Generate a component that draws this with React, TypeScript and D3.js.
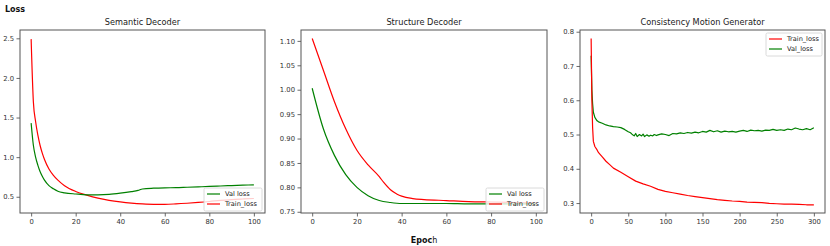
import React, { useEffect, useRef } from 'react';
import * as d3 from 'd3';

// Semantic Decoder (epochs 0..100)
const semTrainEpoch = [0, 1, 2, 3, 4, 5, 6, 8, 10, 12, 15, 20, 25, 30, 35, 40, 45, 50, 55, 60, 65, 70, 75, 80, 85, 90, 95, 100];
const semTrainLoss = [2.49, 1.7, 1.45, 1.28, 1.15, 1.05, 0.97, 0.85, 0.77, 0.71, 0.64, 0.567, 0.52, 0.482, 0.455, 0.435, 0.42, 0.41, 0.405, 0.405, 0.41, 0.418, 0.428, 0.44, 0.455, 0.465, 0.472, 0.478];
const semValEpoch = [0, 1, 2, 3, 4, 5, 6, 8, 10, 12, 15, 20, 25, 30, 35, 40, 45, 48, 50, 55, 60, 65, 70, 75, 80, 85, 90, 95, 100];
const semValLoss = [1.43, 1.15, 1.0, 0.9, 0.82, 0.76, 0.71, 0.64, 0.6, 0.57, 0.55, 0.535, 0.525, 0.525, 0.53, 0.545, 0.565, 0.58, 0.598, 0.608, 0.613, 0.615, 0.62, 0.625, 0.63, 0.636, 0.641, 0.646, 0.651];

// Structure Decoder (epochs 0..100)
const strTrainEpoch = [0, 5, 10, 15, 20, 25, 30, 32, 35, 38, 40, 45, 50, 60, 70, 80, 90, 100];
const strTrainLoss = [1.105, 1.04, 0.975, 0.92, 0.876, 0.846, 0.822, 0.81, 0.795, 0.786, 0.782, 0.777, 0.775, 0.773, 0.771, 0.77, 0.769, 0.768];
const strValEpoch = [0, 5, 10, 15, 20, 25, 30, 35, 40, 50, 60, 70, 80, 90, 100];
const strValLoss = [1.003, 0.92, 0.865, 0.826, 0.8, 0.783, 0.773, 0.769, 0.767, 0.767, 0.767, 0.766, 0.766, 0.766, 0.766];

// Consistency Motion Generator (epochs 0..300)
const cmgTrainEpoch = [0, 1, 2, 3, 5, 8, 10, 15, 20, 25, 30, 40, 50, 60, 70, 80, 90, 100, 110, 120, 130, 140, 150, 160, 170, 180, 190, 200, 210, 220, 230, 240, 250, 260, 270, 280, 290, 300];
const cmgTrainLoss = [0.78, 0.6, 0.52, 0.48, 0.465, 0.455, 0.447, 0.435, 0.422, 0.412, 0.402, 0.39, 0.377, 0.364, 0.356, 0.349, 0.34, 0.334, 0.33, 0.326, 0.322, 0.319, 0.316, 0.313, 0.31, 0.308, 0.306, 0.305, 0.303, 0.302, 0.301, 0.299, 0.298, 0.297, 0.297, 0.296, 0.295, 0.295];
const cmgValEpoch = [0, 1, 2, 3, 5, 8, 10, 15, 20, 25, 30, 35, 40, 45, 50, 53, 55, 58, 60, 62, 65, 68, 70, 72, 75, 78, 80, 83, 85, 88, 90, 95, 100, 105, 110, 115, 120, 125, 130, 135, 140, 145, 150, 155, 160, 165, 170, 175, 180, 185, 190, 195, 200, 205, 210, 215, 220, 225, 230, 235, 240, 245, 250, 255, 260, 265, 270, 275, 280, 285, 290, 295, 300];
const cmgValLoss = [0.73, 0.63, 0.59, 0.565, 0.55, 0.54, 0.537, 0.533, 0.528, 0.525, 0.523, 0.522, 0.52, 0.515, 0.508, 0.505, 0.501, 0.496, 0.503, 0.494, 0.5, 0.496, 0.501, 0.494, 0.499, 0.495, 0.498, 0.496, 0.5, 0.497, 0.499, 0.502, 0.5, 0.497, 0.503, 0.502, 0.505, 0.503, 0.506, 0.504, 0.507, 0.505, 0.509, 0.507, 0.512, 0.508, 0.511, 0.507, 0.51, 0.508, 0.509, 0.507, 0.51, 0.512, 0.509, 0.513, 0.511, 0.512, 0.51, 0.513, 0.512, 0.515, 0.512, 0.514, 0.512, 0.516, 0.514, 0.519, 0.516, 0.514, 0.517, 0.514, 0.52];

const xTicks100 = [0, 20, 40, 60, 80, 100];
const xTicks300 = [0, 50, 100, 150, 200, 250, 300];
const semYTicks = [0.5, 1.0, 1.5, 2.0, 2.5];
const strYTicks = [0.75, 0.8, 0.85, 0.9, 0.95, 1.0, 1.05, 1.1];
const cmgYTicks = [0.3, 0.4, 0.5, 0.6, 0.7, 0.8];

const RED = '#ff0000';
const GREEN = '#008000';
const FONT = '"DejaVu Sans", sans-serif';

export default function App() {
  const ref = useRef<SVGSVGElement>(null);

  useEffect(() => {
    const svg = d3.select(ref.current);
    svg.selectAll('*').remove();

    const panels = [
      {
        title: 'Semantic Decoder', left: 20, right: 265, xDomain: [-5, 105], yDomain: [0.295, 2.605],
        xTicks: xTicks100, yTicks: semYTicks, yFmt: '.1f', legendPos: 'lower', legendW: 58, smooth: true,
        series: [
          { label: 'Val loss', color: GREEN, x: semValEpoch, y: semValLoss },
          { label: 'Train_loss', color: RED, x: semTrainEpoch, y: semTrainLoss },
        ],
      },
      {
        title: 'Structure Decoder', left: 301, right: 547, xDomain: [-5, 105], yDomain: [0.7475, 1.1223],
        xTicks: xTicks100, yTicks: strYTicks, yFmt: '.2f', legendPos: 'lower', legendW: 58, smooth: true,
        series: [
          { label: 'Val loss', color: GREEN, x: strValEpoch, y: strValLoss },
          { label: 'Train_loss', color: RED, x: strTrainEpoch, y: strTrainLoss },
        ],
      },
      {
        title: 'Consistency Motion Generator', left: 580, right: 825, xDomain: [-15, 315], yDomain: [0.271, 0.805],
        xTicks: xTicks300, yTicks: cmgYTicks, yFmt: '.1f', legendPos: 'upper', legendW: 56, smooth: false,
        series: [
          { label: 'Train_loss', color: RED, x: cmgTrainEpoch, y: cmgTrainLoss },
          { label: 'Val_loss', color: GREEN, x: cmgValEpoch, y: cmgValLoss },
        ],
      },
    ];
    const top = 30, bottom = 213;

    panels.forEach((p, i) => {
      const xScale = d3.scaleLinear().domain(p.xDomain).range([p.left, p.right]);
      const yScale = d3.scaleLinear().domain(p.yDomain).range([bottom, top]);
      const g = svg.append('g');

      g.append('clipPath').attr('id', 'clip' + i)
        .append('rect').attr('x', p.left).attr('y', top).attr('width', p.right - p.left).attr('height', bottom - top);

      const line = d3.line<[number, number]>()
        .x(d => xScale(d[0]))
        .y(d => yScale(d[1]))
        .curve(p.smooth ? d3.curveMonotoneX : d3.curveLinear);

      p.series.slice().reverse().forEach(s => {
        const pts = s.x.map((e, k) => [e, s.y[k]] as [number, number]);
        g.append('path')
          .attr('d', line(pts))
          .attr('fill', 'none')
          .attr('stroke', s.color)
          .attr('stroke-width', 1.2)
          .attr('stroke-linejoin', 'round')
          .attr('clip-path', `url(#clip${i})`);
      });

      const xAxis = d3.axisBottom(xScale).tickValues(p.xTicks).tickSize(3.5).tickPadding(2.5).tickFormat(d3.format('d'));
      const yAxis = d3.axisLeft(yScale).tickValues(p.yTicks).tickSize(3.5).tickPadding(2.5).tickFormat(d3.format(p.yFmt));
      const gx = g.append('g').attr('transform', `translate(0,${bottom})`).call(xAxis);
      const gy = g.append('g').attr('transform', `translate(${p.left},0)`).call(yAxis);
      [gx, gy].forEach(a => {
        a.select('.domain').remove();
        a.selectAll('line').attr('stroke', '#444').attr('stroke-width', 0.8);
        a.selectAll('text').attr('font-family', FONT).attr('font-size', 6.8).attr('fill', '#333');
      });

      g.append('rect')
        .attr('x', p.left).attr('y', top)
        .attr('width', p.right - p.left).attr('height', bottom - top)
        .attr('fill', 'none').attr('stroke', '#555').attr('stroke-width', 1);

      g.append('text')
        .attr('x', (p.left + p.right) / 2).attr('y', top - 5)
        .attr('text-anchor', 'middle')
        .attr('font-family', FONT).attr('font-size', 8.2).attr('fill', '#222')
        .text(p.title);

      // legend
      const lw = p.legendW, lh = 23;
      const lx = p.right - 3 - lw;
      const ly = p.legendPos === 'lower' ? bottom - 2 - lh : top + 3;
      const lg = g.append('g');
      lg.append('rect')
        .attr('x', lx).attr('y', ly).attr('width', lw).attr('height', lh)
        .attr('rx', 1.5)
        .attr('fill', 'white').attr('fill-opacity', 0.8)
        .attr('stroke', '#d0d0d0').attr('stroke-width', 0.8);
      p.series.forEach((s, k) => {
        const cy = ly + 6 + k * 10;
        lg.append('line')
          .attr('x1', lx + 3).attr('x2', lx + 16)
          .attr('y1', cy).attr('y2', cy)
          .attr('stroke', s.color).attr('stroke-width', 1.2);
        lg.append('text')
          .attr('x', lx + 21).attr('y', cy + 2.4)
          .attr('font-family', FONT).attr('font-size', 6.6).attr('fill', '#222')
          .text(s.label);
      });
    });

    svg.append('text')
      .attr('x', 5).attr('y', 11.5)
      .attr('font-family', FONT).attr('font-size', 8).attr('font-weight', 'bold').attr('fill', '#111')
      .text('Loss');

    const ep = svg.append('text')
      .attr('x', 424).attr('y', 243)
      .attr('text-anchor', 'middle')
      .attr('font-family', FONT).attr('font-size', 8).attr('fill', '#111');
    ep.append('tspan').attr('font-weight', 'bold').text('Epoc');
    ep.append('tspan').text('h');
  }, []);

  return (
    <svg
      ref={ref}
      width={830}
      height={246}
      style={{ position: 'absolute', left: 0, top: 0, background: 'white' }}
    />
  );
}
